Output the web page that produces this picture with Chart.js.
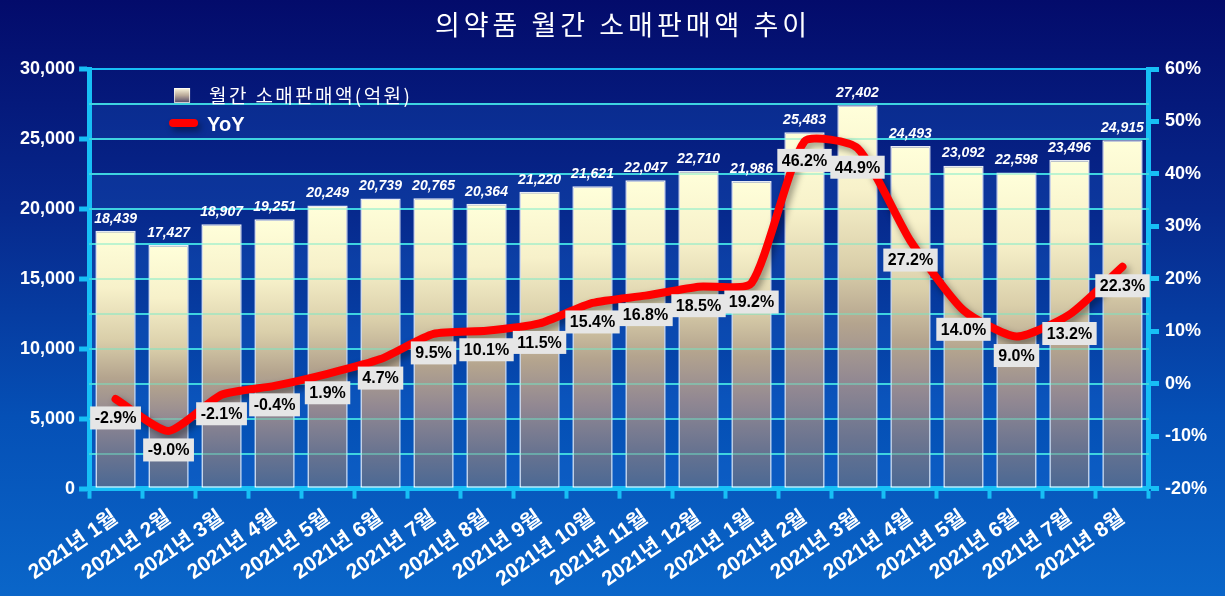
<!DOCTYPE html>
<html>
<head>
<meta charset="utf-8">
<script src="https://cdn.jsdelivr.net/npm/chart.js@4.4.0/dist/chart.umd.min.js"></script>
<style>
  body { margin: 0; background: #06298a; }
  #wrap { width: 1225px; height: 596px; }
</style>
</head>
<body>
<div id="wrap"><canvas id="myChart"></canvas></div>
<script>
const chartTitle = "의약품 월간 소매판매액 추이";
const months = [
  "2021년 1월", "2021년 2월", "2021년 3월", "2021년 4월", "2021년 5월",
  "2021년 6월", "2021년 7월", "2021년 8월", "2021년 9월", "2021년 10월",
  "2021년 11월", "2021년 12월", "2021년 1월", "2021년 2월", "2021년 3월",
  "2021년 4월", "2021년 5월", "2021년 6월", "2021년 7월", "2021년 8월"
];
const salesLabel = "월간 소매판매액(억원)";
const sales = [
  18439, 17427, 18907, 19251, 20249, 20739, 20765, 20364, 21220, 21621,
  22047, 22710, 21986, 25483, 27402, 24493, 23092, 22598, 23496, 24915
];
const yoyLabel = "YoY";
const yoy = [
  -2.9, -9.0, -2.1, -0.4, 1.9, 4.7, 9.5, 10.1, 11.5, 15.4,
  16.8, 18.5, 19.2, 46.2, 44.9, 27.2, 14.0, 9.0, 13.2, 22.3
];

const FONT = "'Liberation Sans', 'Noto Sans CJK KR', Arial, sans-serif";
const KFONT = "'Noto Sans CJK KR', 'Liberation Sans', sans-serif";
const CYAN = "#17bff5";

Chart.defaults.font.family = FONT;
Chart.defaults.color = "#ffffff";

function barGradient(context) {
  const chart = context.chart;
  const { ctx, chartArea, scales } = chart;
  if (!chartArea || context.type !== "data") return "#efe8c4";
  const top = scales.y.getPixelForValue(context.raw);
  const bottom = scales.y.getPixelForValue(0);
  const g = ctx.createLinearGradient(0, top, 0, bottom);
  g.addColorStop(0, "#ffffda");
  g.addColorStop(0.22, "#f7f1ca");
  g.addColorStop(0.42, "#dacfaa");
  g.addColorStop(0.57, "#b4a48e");
  g.addColorStop(0.72, "#928892");
  g.addColorStop(0.87, "#6a7490");
  g.addColorStop(1, "#4a6894");
  return g;
}

// page background, striped plot area, title
const backdrop = {
  id: "backdrop",
  beforeDraw(chart) {
    const { ctx, width, height, chartArea, scales } = chart;
    ctx.save();
    const g = ctx.createLinearGradient(0, 0, 0, height);
    g.addColorStop(0, "#030b6b");
    g.addColorStop(0.35, "#07288c");
    g.addColorStop(0.7, "#0550b6");
    g.addColorStop(1, "#0a66c9");
    ctx.fillStyle = g;
    ctx.fillRect(0, 0, width, height);

    ctx.fillStyle = "rgba(30, 110, 220, 0.22)";
    for (let v = 0; v < 30000; v += 5000) {
      const y1 = scales.y.getPixelForValue(v);
      const y2 = scales.y.getPixelForValue(v + 2500);
      ctx.fillRect(chartArea.left, y2, chartArea.right - chartArea.left, y1 - y2);
    }

    ctx.fillStyle = "#ffffff";
    ctx.font = "400 27px " + KFONT;
    ctx.letterSpacing = "4px";
    ctx.textAlign = "center";
    ctx.textBaseline = "middle";
    ctx.fillText(chartTitle, (chartArea.left + chartArea.right) / 2 + 4, 25);
    ctx.restore();
  }
};

// grid lines showing through the bars, shadow under the YoY line
const overlays = {
  id: "overlays",
  beforeDatasetDraw(chart, args) {
    if (args.index === 1) {
      const ctx = chart.ctx;
      ctx.save();
      ctx.shadowColor = "rgba(0, 0, 0, 0.4)";
      ctx.shadowBlur = 7;
      ctx.shadowOffsetX = 3;
      ctx.shadowOffsetY = 4;
    }
  },
  afterDatasetDraw(chart, args) {
    const { ctx, chartArea, scales } = chart;
    if (args.index === 1) {
      ctx.restore();
      return;
    }
    ctx.save();
    ctx.strokeStyle = "rgba(110, 235, 200, 0.45)";
    ctx.lineWidth = 2;
    for (let v = 2500; v < 30000; v += 2500) {
      const y = Math.round(scales.y.getPixelForValue(v));
      ctx.beginPath();
      ctx.moveTo(chartArea.left, y);
      ctx.lineTo(chartArea.right, y);
      ctx.stroke();
    }
    ctx.restore();
  }
};

// value labels and the legend inside the plot
const labels = {
  id: "labels",
  afterDatasetsDraw(chart) {
    const { ctx, chartArea } = chart;
    const bars = chart.getDatasetMeta(0).data;
    const points = chart.getDatasetMeta(1).data;
    ctx.save();
    ctx.textAlign = "center";
    ctx.textBaseline = "middle";

    ctx.fillStyle = "#ffffff";
    ctx.font = "italic bold 14px " + FONT;
    bars.forEach((bar, i) => {
      ctx.fillText(sales[i].toLocaleString("en-US"), bar.x, bar.y - 12);
    });

    ctx.font = "bold 16px " + FONT;
    points.forEach((pt, i) => {
      const text = yoy[i].toFixed(1) + "%";
      const w = ctx.measureText(text).width + 9;
      const h = 23;
      const cy = pt.y + 19;
      ctx.fillStyle = "#e6e6e6";
      ctx.fillRect(pt.x - w / 2, cy - h / 2, w, h);
      ctx.fillStyle = "#000000";
      ctx.fillText(text, pt.x, cy + 1);
    });

    // legend
    const lx = chartArea.left + 85;
    const ly = chartArea.top + 19;
    const lg = ctx.createLinearGradient(0, ly, 0, ly + 15);
    lg.addColorStop(0, "#fffbe0");
    lg.addColorStop(0.5, "#b8a898");
    lg.addColorStop(1, "#4e4466");
    ctx.fillStyle = lg;
    ctx.fillRect(lx, ly, 16, 15);
    ctx.strokeStyle = "rgba(255,255,255,0.7)";
    ctx.lineWidth = 1;
    ctx.strokeRect(lx + 0.5, ly + 0.5, 15, 14);

    ctx.textAlign = "left";
    ctx.fillStyle = "#ffffff";
    ctx.font = "400 19px " + KFONT;
    ctx.letterSpacing = "2.4px";
    ctx.fillText(salesLabel, lx + 35, ly + 8);
    ctx.letterSpacing = "0px";

    ctx.save();
    ctx.shadowColor = "rgba(0, 0, 0, 0.4)";
    ctx.shadowBlur = 6;
    ctx.shadowOffsetX = 3;
    ctx.shadowOffsetY = 4;
    ctx.strokeStyle = "#ff0000";
    ctx.lineWidth = 8;
    ctx.lineCap = "round";
    ctx.beginPath();
    ctx.moveTo(lx - 1, ly + 35);
    ctx.lineTo(lx + 20, ly + 35);
    ctx.stroke();
    ctx.restore();

    ctx.font = "bold 20px " + FONT;
    ctx.fillText(yoyLabel, lx + 33, ly + 37);
    ctx.restore();
  }
};

function showChart() {
  const data = {
    labels: months,
    datasets: [
      {
        type: "bar",
        label: salesLabel,
        data: sales,
        yAxisID: "y",
        backgroundColor: barGradient,
        borderColor: "rgba(255, 255, 255, 0.9)",
        borderWidth: 1.5,
        borderSkipped: false,
        barPercentage: 0.76,
        categoryPercentage: 1,
        order: 2,
      },
      {
        type: "line",
        label: yoyLabel,
        data: yoy,
        yAxisID: "y1",
        borderColor: "#ff0000",
        borderWidth: 8,
        borderCapStyle: "round",
        borderJoinStyle: "round",
        tension: 0.2,
        pointRadius: 0,
        order: 1,
      },
    ],
  };

  const config = {
    type: "bar",
    data: data,
    plugins: [backdrop, overlays, labels],
    options: {
      responsive: true,
      maintainAspectRatio: false,
      animation: false,
      layout: { padding: { top: 69, left: 16, right: 12, bottom: -3 } },
      plugins: {
        legend: { display: false },
        title: { display: false },
        tooltip: { enabled: false },
      },
      scales: {
        x: {
          grid: {
            display: true,
            drawOnChartArea: false,
            tickLength: 10,
            tickWidth: 4,
            tickColor: CYAN,
          },
          border: { color: CYAN, width: 5 },
          ticks: {
            color: "#ffffff",
            font: { size: 21, weight: "bold" },
            autoSkip: false,
            minRotation: 35,
            maxRotation: 35,
            padding: 7,
          },
        },
        y: {
          position: "left",
          min: 0,
          max: 30000,
          grid: {
            color: CYAN,
            lineWidth: 2,
            tickLength: 10,
            tickWidth: 5,
            tickColor: (c) => (c.tick && c.tick.value % 5000 === 0 ? CYAN : "rgba(0,0,0,0)"),
          },
          border: { color: CYAN, width: 5 },
          ticks: {
            stepSize: 2500,
            color: "#ffffff",
            font: { size: 18, weight: "bold" },
            padding: 4,
            callback: (v) => (v % 5000 === 0 ? v.toLocaleString("en-US") : ""),
          },
        },
        y1: {
          position: "right",
          min: -20,
          max: 60,
          grid: {
            drawOnChartArea: false,
            tickLength: 10,
            tickWidth: 5,
            tickColor: CYAN,
          },
          border: { color: CYAN, width: 5 },
          ticks: {
            stepSize: 10,
            color: "#ffffff",
            font: { size: 18, weight: "bold" },
            padding: 6,
            callback: (v) => v + "%",
          },
        },
      },
    },
  };

  new Chart(document.getElementById("myChart"), config);
}

showChart();
</script>
</body>
</html>
